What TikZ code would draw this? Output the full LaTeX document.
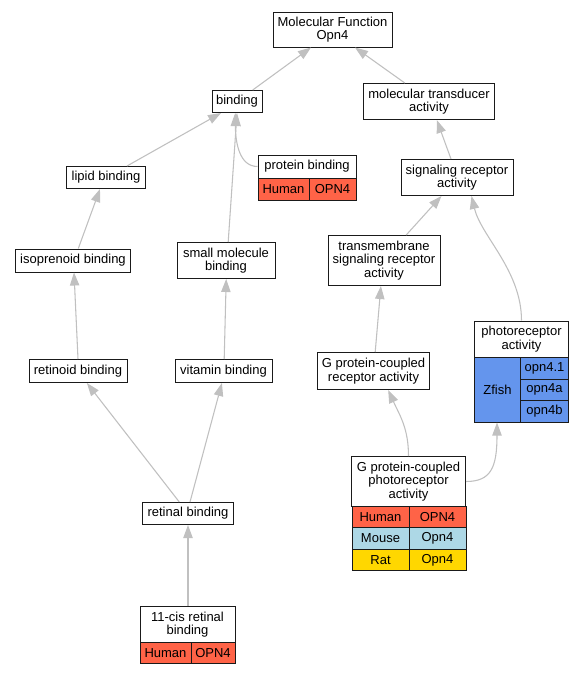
\documentclass[tikz,border=0pt]{standalone}
\usepackage{fontspec}
\setmainfont{Liberation Sans}
\usetikzlibrary{arrows.meta,calc}
\definecolor{edgecol}{HTML}{C0C0C0}
\definecolor{bordercol}{HTML}{1A1A1A}
\definecolor{humancol}{HTML}{FF6347}
\definecolor{mousecol}{HTML}{ADD8E6}
\definecolor{ratcol}{HTML}{FFD700}
\definecolor{zfishcol}{HTML}{6495ED}
\begin{document}
\begin{tikzpicture}[x=0.75pt,y=-0.75pt,
  term/.style={draw=bordercol, line width=0.75pt, fill=white, inner sep=0pt, align=center,
    font=\fontsize{9.75pt}{10pt}\selectfont, text=black},
  sz/.style 2 args={minimum width=#1*0.75pt, minimum height=#2*0.75pt},
  human/.style={term, fill=humancol},
  mouse/.style={term, fill=mousecol},
  rat/.style={term, fill=ratcol},
  zfish/.style={term, fill=zfishcol},
  isa/.style={draw=edgecol, line width=0.8pt, -{Triangle[length=9.75pt,width=7pt]}}
]
\useasboundingbox (0,0) rectangle (584,675);
\fill[white] (0,0) rectangle (584,675);

% term nodes
\node[term, sz={119}{35}] (mf) at (332.5,29.5) {Molecular Function\\Opn4};
\node[term, sz={50}{22}] (bind) at (237,101.5) {binding};
\node[term, sz={131}{36}] (mt) at (429,101.5) {molecular transducer\\activity};
\node[term, sz={98}{23}] (pb) at (307,166.5) {protein binding};
\node[human, sz={51}{22}] (pbh) at (283.5,189) {Human};
\node[human, sz={47}{22}] (pbo) at (332.5,189) {OPN4};
\node[term, sz={112}{36}] (sra) at (457,177.5) {signaling receptor\\activity};
\node[term, sz={79}{22}] (lipid) at (106,177.5) {lipid binding};
\node[term, sz={115}{23}] (iso) at (73,260.5) {isoprenoid binding};
\node[term, sz={98}{36}] (sm) at (226,260.5) {small molecule\\binding};
\node[term, sz={112}{50}] (tsra) at (384,260.5) {transmembrane\\signaling receptor\\activity};
\node[term, sz={98}{23}] (ret) at (78,371) {retinoid binding};
\node[term, sz={97}{23}] (vit) at (223.5,371) {vitamin binding};
\node[term, sz={112}{37}] (gpcr) at (373.5,371) {G protein-coupled\\receptor activity};

\node[term, sz={94}{36}] (pr) at (521.5,339) {photoreceptor\\activity};
\node[zfish, sz={46}{65}] (prz) at (497.5,389.5) {Zfish};
\node[zfish, sz={48}{22}] (pra) at (544.5,368) {opn4.1};
\node[zfish, sz={48}{21}] (prb) at (544.5,389.5) {opn4a};
\node[zfish, sz={48}{22}] (prc) at (544.5,411) {opn4b};

\node[term, sz={114}{50}] (gpcp) at (408.5,481.5) {G protein-coupled\\photoreceptor\\activity};
\node[human, sz={57}{21}] (gph) at (380.5,517) {Human};
\node[human, sz={57}{21}] (gpho) at (437.5,517) {OPN4};
\node[mouse, sz={57}{22}] (gpm) at (380.5,538.5) {Mouse};
\node[mouse, sz={57}{22}] (gpmo) at (437.5,538.5) {Opn4};
\node[rat, sz={57}{21}] (gpr) at (380.5,560) {Rat};
\node[rat, sz={57}{21}] (gpro) at (437.5,560) {Opn4};

\node[term, sz={91}{22}] (rb) at (188,513.5) {retinal binding};
\node[term, sz={95}{36}] (cis) at (187.5,624.5) {11-cis retinal\\binding};
\node[human, sz={51}{21}] (cish) at (165.5,653) {Human};
\node[human, sz={44}{21}] (ciso) at (213,653) {OPN4};

% is_a edges (child -> parent)
\draw[isa] ($(bind.north)+(15.7,0)$) -- ($(mf.south)+(-21.5,0)$);
\draw[isa] ($(mt.north)+(-24.2,0)$) -- ($(mf.south)+(22.5,0)$);
\draw[isa] ($(lipid.north)+(21,0)$) -- ($(bind.south)+(-16,0)$);
\draw[isa] ($(sm.north)+(2.2,0)$) -- ($(bind.south)+(0,0)$);
\draw[isa] (pb.west) .. controls ($(pb.west)+(-18,0)$) and ($(bind.south)+(-1.5,30)$) .. ($(bind.south)+(-1.8,0)$);
\draw[isa] ($(sra.north)+(-6,0)$) -- ($(mt.south)+(7.8,0)$);
\draw[isa] ($(tsra.north)+(22.2,0)$) -- ($(sra.south)+(-15.5,0)$);
\draw[isa] (pr.north) .. controls ($(pr.north)+(0,-50)$) and ($(sra.south)+(24,40)$) .. ($(sra.south)+(14.5,0)$);
\draw[isa] ($(iso.north)+(5.3,0)$) -- ($(lipid.south)+(-6,0)$);
\draw[isa] (ret.north) -- ($(iso.south)+(1,0)$);
\draw[isa] ($(vit.north)+(0.7,0)$) -- ($(sm.south)+(0.2,0)$);
\draw[isa] ($(gpcr.north)+(1.7,0)$) -- ($(tsra.south)+(-3.1,0)$);
\draw[isa] ($(rb.north)+(-8.7,0)$) -- ($(ret.south)+(8.9,0)$);
\draw[isa] ($(rb.north)+(2,0)$) -- ($(vit.south)+(-1.6,0)$);
\draw[isa] ($(cis.north)+(0.5,0)$) -- (rb.south);
\draw[isa] (gpcp.north) .. controls ($(gpcp.north)+(0,-28)$) and ($(gpcr.south)+(26,25)$) .. ($(gpcr.south)+(14.7,0)$);
\draw[isa] (gpcp.east) .. controls ($(gpcp.east)+(25,0)$) and ($(prz.south)+(-0.5,45)$) .. ($(prz.south)+(-0.5,0)$);
\end{tikzpicture}
\end{document}
